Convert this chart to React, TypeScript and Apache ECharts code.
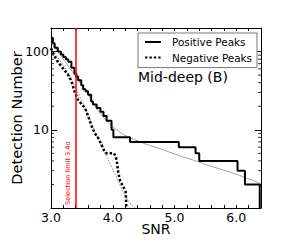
import React, { useEffect, useRef } from "react";
import * as echarts from "echarts";

// ---- data ----
const xMin = 3.0;
const xMax = 6.4;
const yMin = 1;
const yMax = 200;

const posSNR = [3.0, 3.03, 3.06, 3.11, 3.16, 3.2, 3.24, 3.28, 3.33, 3.38, 3.41, 3.44, 3.49, 3.52, 3.56, 3.6, 3.65, 3.68, 3.74, 3.8, 3.85, 3.9, 3.98, 4.01, 4.28, 5.07, 5.34, 5.4, 6.02, 6.14, 6.38];
const posN = [150, 128, 112, 100, 92, 85, 80, 74, 62, 52, 48, 43, 37, 33, 31, 28, 23, 21, 19, 17, 15, 13, 10, 8, 7, 6, 5, 4, 3, 2, 1];

const negSNR = [3.0, 3.05, 3.11, 3.2, 3.28, 3.33, 3.38, 3.44, 3.5, 3.55, 3.6, 3.66, 3.71, 3.77, 3.82, 3.87, 3.9, 4.02, 4.05, 4.07, 4.09, 4.12, 4.15, 4.18, 4.21, 4.22];
const negN = [110, 90, 74, 60, 50, 42, 31, 24, 21, 19, 15, 11, 9, 7.7, 6.4, 5.2, 5, 5, 4.5, 3.7, 2.8, 2.2, 2.0, 1.8, 1.6, 1.0];

const posFitSNR = [3.0, 3.1, 3.2, 3.3, 3.4, 3.5, 3.6, 3.7, 3.8, 3.9, 4.0, 4.2, 4.4, 4.6, 4.8, 5.0, 5.3, 5.6, 6.0, 6.4];
const posFitN = [130, 102, 80, 62, 48, 37, 28.5, 20.5, 16, 13, 10.9, 8.5, 7.2, 6.3, 5.6, 4.9, 4.1, 3.4, 2.7, 2.05];

const negFitSNR = [3.0, 3.2, 3.4, 3.6, 3.7, 3.8, 3.9, 4.0, 4.1, 4.2, 4.3, 4.36];
const negFitN = [110, 66, 34, 15.5, 10, 6.6, 4.6, 3.1, 2.1, 1.45, 1.1, 1.0];

const yMinorTicks = [2, 3, 4, 5, 6, 7, 8, 9, 20, 30, 40, 50, 60, 70, 80, 90];
const yLabelTicks = [10, 100];
const selectionLimit = 3.4;

const FONT = "DejaVu Sans";

export default function App() {
  const ref = useRef<HTMLDivElement>(null);
  useEffect(() => {
    if (!ref.current) return;
    const chart = echarts.init(ref.current, undefined, { renderer: "svg" });
    const zip = (xs: number[], ys: number[]) => xs.map((x, i) => [x, ys[i]]);
    const isInt = (v: number) => Math.abs(v - Math.round(v)) < 1e-6;

    const axisCommon = {
      axisLine: { show: true, onZero: false, lineStyle: { color: "#000", width: 1 } },
      splitLine: { show: false },
    };

    chart.setOption({
      animation: false,
      backgroundColor: "#fff",
      textStyle: { fontFamily: FONT },
      grid: { left: 51, right: 38, top: 28, bottom: 39, containLabel: false, outerBoundsMode: "none" },
      legend: {
        data: ["Positive Peaks", "Negative Peaks"],
        orient: "vertical",
        left: 138,
        top: 33,
        padding: [3, 5, 4, 6],
        itemWidth: 16,
        itemHeight: 12,
        itemGap: 3.6,
        borderColor: "#777",
        borderWidth: 1,
        borderRadius: 0,
        backgroundColor: "#fff",
        itemStyle: { opacity: 0 },
        textStyle: { fontFamily: FONT, fontSize: 10.4, color: "#000", lineHeight: 12, padding: [0, 0, 0, 6] },
      },
      xAxis: [
        {
          type: "value",
          min: xMin,
          max: xMax,
          interval: 0.2,
          name: "SNR",
          nameLocation: "middle",
          nameGap: 14,
          nameMoveOverlap: false,
          nameTextStyle: { fontFamily: FONT, fontSize: 14, color: "#000" },
          ...axisCommon,
          axisTick: { show: true, inside: true, length: 3, lineStyle: { color: "#000" } },
          axisLabel: {
            fontFamily: FONT,
            fontSize: 12.5,
            color: "#000",
            margin: 3,
            formatter: (v: number) => (isInt(v) ? Math.round(v).toFixed(1) : ""),
          },
        },
        {
          type: "value",
          position: "top",
          min: xMin,
          max: xMax,
          interval: 0.2,
          ...axisCommon,
          axisTick: { show: true, inside: true, length: 3, lineStyle: { color: "#000" } },
          axisLabel: { show: false },
        },
      ],
      yAxis: [
        {
          type: "log",
          logBase: 10,
          min: yMin,
          max: yMax,
          name: "Detection Number",
          nameLocation: "middle",
          nameGap: 27,
          nameMoveOverlap: false,
          nameTextStyle: { fontFamily: FONT, fontSize: 14.5, color: "#000" },
          ...axisCommon,
          axisTick: { show: true, inside: true, length: 6, lineStyle: { color: "#000" } },
          axisLabel: {
            fontFamily: FONT,
            fontSize: 12.5,
            color: "#000",
            margin: 2,
            formatter: (v: number) => (yLabelTicks.some((t) => Math.abs(t - v) < 1e-6) ? String(v) : ""),
          },
        },
        {
          type: "log",
          logBase: 10,
          position: "right",
          min: yMin,
          max: yMax,
          ...axisCommon,
          axisTick: { show: true, inside: true, length: 6, lineStyle: { color: "#000" } },
          axisLabel: { show: false },
        },
      ],
      graphic: [
        {
          type: "text",
          left: 138,
          top: 70,
          style: { text: "Mid-deep (B)", fontFamily: FONT, fontSize: 14, fill: "#000" },
        },
      ],
      series: [
        {
          name: "posFit",
          type: "line",
          data: zip(posFitSNR, posFitN),
          symbol: "none",
          smooth: 0.3,
          lineStyle: { color: "#8a8a8a", width: 0.8 },
          z: 2,
        },
        {
          name: "negFit",
          type: "line",
          data: zip(negFitSNR, negFitN),
          symbol: "none",
          smooth: 0.3,
          lineStyle: { color: "#777", width: 0.9, type: [1.5, 1.5] },
          z: 2,
        },
        {
          name: "Negative Peaks",
          type: "line",
          data: zip(negSNR, negN),
          symbol: "none",
          lineStyle: { color: "#000", width: 2.5, type: [2.4, 2], cap: "butt" },
          itemStyle: { color: "#000" },
          z: 3,
        },
        {
          name: "Positive Peaks",
          type: "line",
          step: "end",
          data: zip(posSNR, posN),
          symbol: "none",
          lineStyle: { color: "#000", width: 2 },
          itemStyle: { color: "#000" },
          z: 4,
          markLine: {
            silent: true,
            symbol: "none",
            animation: false,
            lineStyle: { color: "#ff0000", width: 1.5, type: "solid" },
            label: {
              show: true,
              position: "insideStartTop",
              formatter: "Selection limit 3.4σ",
              color: "#ff0000",
              fontFamily: FONT,
              fontSize: 6.6,
              distance: [3, 4],
            },
            data: [{ xAxis: selectionLimit }],
          },
        },
        {
          name: "yMinorLeft",
          type: "scatter",
          data: yMinorTicks.map((v) => [xMin, v]),
          symbol: "rect",
          symbolSize: [3, 1],
          symbolOffset: [1.5, 0],
          itemStyle: { color: "#000" },
          silent: true,
          clip: false,
          z: 5,
        },
        {
          name: "yMinorRight",
          type: "scatter",
          data: yMinorTicks.map((v) => [xMax, v]),
          symbol: "rect",
          symbolSize: [3, 1],
          symbolOffset: [-1.5, 0],
          itemStyle: { color: "#000" },
          silent: true,
          clip: false,
          z: 5,
        },
      ],
    });
    return () => chart.dispose();
  }, []);
  return (
    <div
      ref={ref}
      style={{ position: "fixed", left: 0, top: 0, width: 299, height: 247, background: "#fff" }}
    />
  );
}
